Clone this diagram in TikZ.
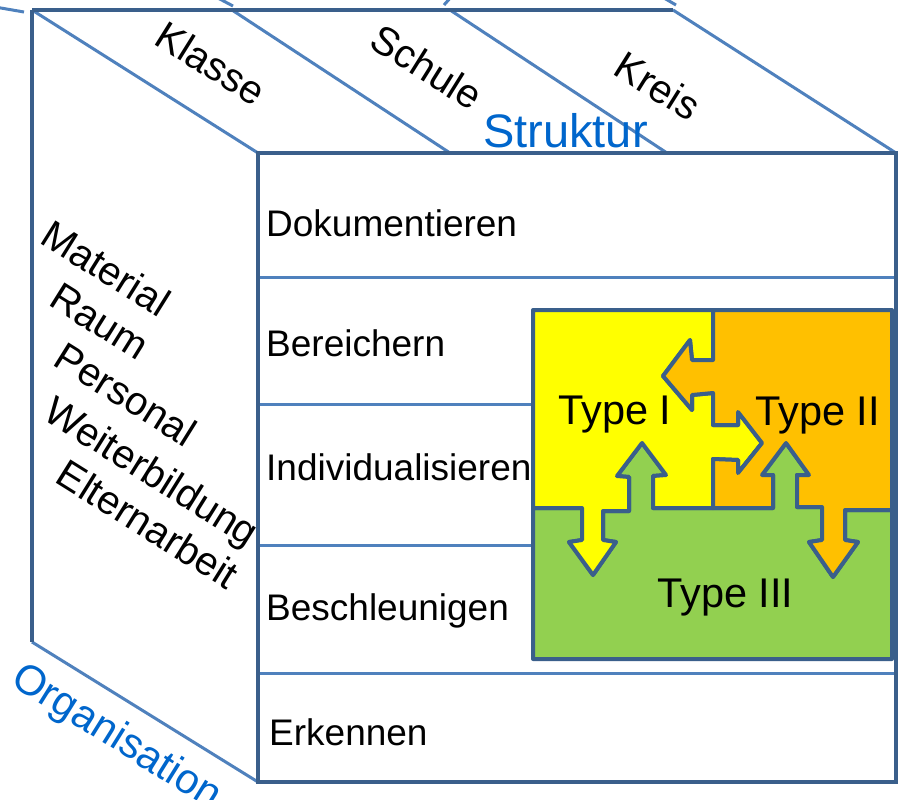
\documentclass[tikz,border=0pt]{standalone}
\usepackage{fontspec}
\setmainfont{Liberation Sans}
\definecolor{edge}{RGB}{58,95,139}
\definecolor{lite}{RGB}{79,129,189}
\definecolor{blu}{RGB}{0,102,204}
\definecolor{yel}{RGB}{255,255,0}
\definecolor{ora}{RGB}{255,192,0}
\definecolor{grn}{RGB}{146,208,80}
\begin{document}
\begin{tikzpicture}[x=1pt,y=-1pt,
  darkline/.style={draw=edge, line width=4.8pt},
  liteline/.style={draw=lite, line width=3pt},
  rowlbl/.style={anchor=base west, inner sep=0pt, font=\fontsize{37}{40}\selectfont},
  sidelbl/.style={inner sep=0pt, anchor=center, rotate=-32, text height=28.6pt, text depth=0pt, font=\fontsize{40}{44}\selectfont},
  typelbl/.style={anchor=base west, inner sep=0pt, font=\fontsize{41.5}{45}\selectfont},
  bluelbl/.style={inner sep=0pt, text=blu},
  piece/.style={draw=edge, line width=4pt, line join=round}]
\useasboundingbox (0,0) rectangle (903,800);
\clip (0,0) rectangle (903,800);
\fill[white] (0,0) rectangle (903,800);

% cube corners
\coordinate (tbl) at (32,10);
\coordinate (tbr) at (673,10);
\coordinate (tfl) at (258,153);
\coordinate (tfr) at (896,153);
\coordinate (bbl) at (32,642);
\coordinate (bfl) at (258,782);
\coordinate (bfr) at (896,782);

% fragments above the picture
\draw[liteline] (-5,7) -- (24,12);
\draw[liteline] (216,-3) -- (233,6);
\draw[liteline] (452,-4) -- (444,5);
\draw[liteline] (664,-2) -- (676,5);

% top face
\draw[liteline] (tbl) -- (tfl);
\draw[liteline] (232,10) -- (450,153);
\draw[liteline] (450,10) -- (667,153);
\draw[liteline] (tbr) -- (tfr);
\draw[darkline] (tbl) -- (tbr);
% left face
\draw[liteline] (bbl) -- (bfl);
\draw[darkline] (tbl) -- (bbl);
% front face dividers
\foreach \yy in {277,404,545,673}
  \draw[liteline] (258,\yy) -- (896,\yy);
\draw[darkline] (tfl) rectangle (bfr);

% top labels
\node[sidelbl] (klasse) at (211,63) {Klasse};
\node[sidelbl] (schule) at (427,67) {Schule};
\node[sidelbl] (kreis) at (658,86) {Kreis};
\node[bluelbl, anchor=base west, font=\fontsize{47}{50}\selectfont] (struktur) at (483,147) {Struktur};

% left labels
\node[sidelbl] (material) at (106,268) {Material};
\node[sidelbl] (raum) at (100,321) {Raum};
\node[sidelbl] (personal) at (126,394) {Personal};
\node[sidelbl] (weiter) at (152,471) {Weiterbildung};
\node[sidelbl] (eltern) at (148,524) {Elternarbeit};
\node[bluelbl, anchor=base west, rotate=-32, font=\fontsize{42}{46}\selectfont] (organisation) at (9,684) {Organisation};

% row labels
\node[rowlbl] (dok) at (266,236) {Dokumentieren};
\node[rowlbl] (ber) at (266,356) {Bereichern};
\node[rowlbl] (ind) at (266,480) {Individualisieren};
\node[rowlbl] (bes) at (266,620) {Beschleunigen};
\node[rowlbl] (erk) at (269,745) {Erkennen};

% puzzle pieces
\path[piece, fill=grn] (533,508) -- (582,508) -- (582,540) -- (569,542) -- (593,575) -- (616,542) -- (603,540) -- (603,511) -- (629,511) -- (629,477) -- (617,476) -- (642,443) -- (666,475) -- (653,476) -- (653,508) -- (713,508)
  -- (773,508) -- (773,475) -- (762,475) -- (786,443) -- (809,475) -- (797,475) -- (797,507) -- (822,507) -- (822,540) -- (809,542) -- (833,577) -- (858,542) -- (845,540) -- (845,510) -- (892,510)
  -- (892,659) -- (533,659) -- cycle;
\path[piece, fill=yel] (533,310) -- (713,310)
  -- (713,360) -- (692,360) -- (690,340) -- (663,376) -- (692,410) -- (692,395) -- (713,393) -- (713,425) -- (738,425) -- (738,412) -- (762,443) -- (738,473) -- (738,460) -- (713,459) -- (713,508)
  -- (653,508) -- (653,476) -- (666,475) -- (642,443) -- (617,476) -- (629,477) -- (629,511) -- (603,511) -- (603,540) -- (616,542) -- (593,575) -- (569,542) -- (582,540) -- (582,508) -- (533,508) -- cycle;
\path[piece, fill=ora] (713,310) -- (892,310) -- (892,510)
  -- (845,510) -- (845,540) -- (858,542) -- (833,577) -- (809,542) -- (822,540) -- (822,507) -- (797,507) -- (797,475) -- (809,475) -- (786,443) -- (762,475) -- (773,475) -- (773,508) -- (713,508)
  -- (713,459) -- (738,460) -- (738,473) -- (762,443) -- (738,412) -- (738,425) -- (713,425) -- (713,393) -- (692,395) -- (692,410) -- (663,376) -- (690,340) -- (692,360) -- (713,360) -- cycle;

\node[typelbl] (t1) at (558,424) {Type I};
\node[typelbl] (t2) at (755,425) {Type II};
\node[typelbl] (t3) at (657,607) {Type III};
\end{tikzpicture}
\end{document}
